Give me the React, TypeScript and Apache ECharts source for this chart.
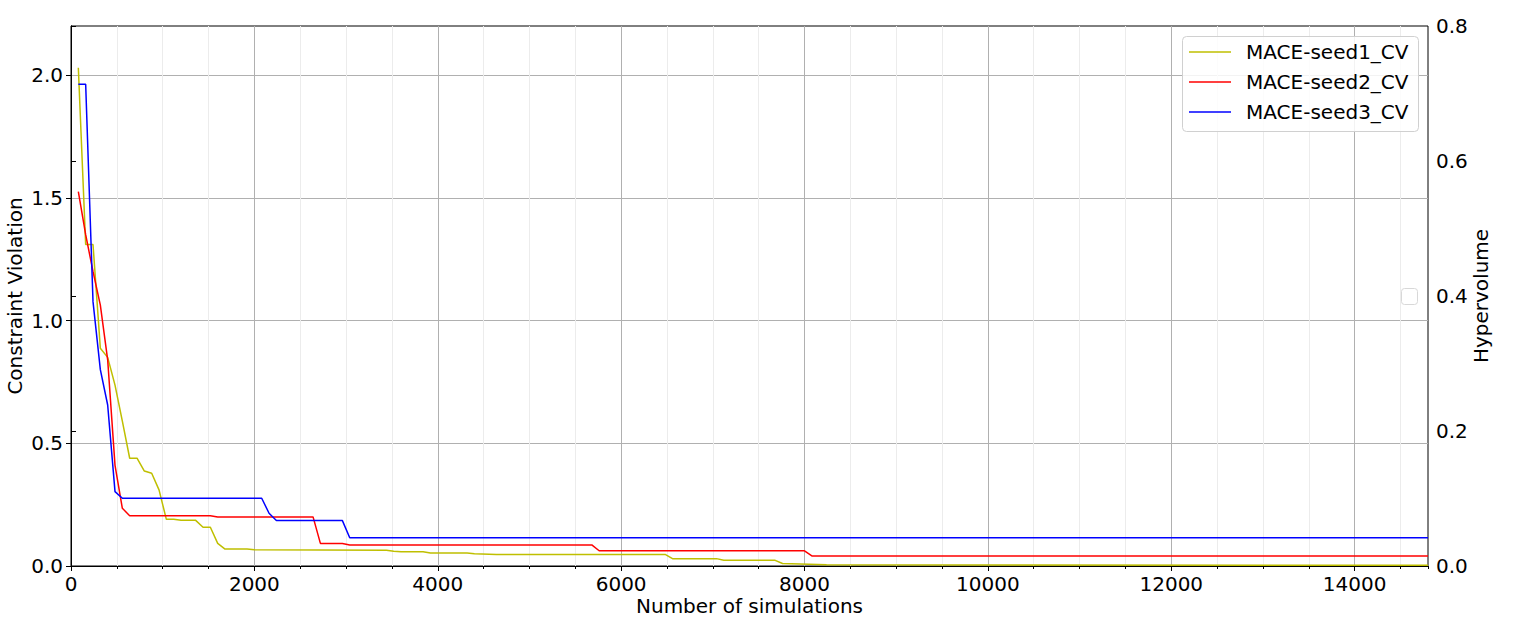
import React, { useEffect, useRef } from "react";
import * as echarts from "echarts";

const FONT = "DejaVu Sans";
const FS = 20;

// [number of simulations, constraint violation]
const seed1CV: [number, number][] = [
  [80, 2.03], [160, 1.31], [240, 1.31], [320, 0.887], [400, 0.85], [480, 0.737],
  [560, 0.59], [640, 0.439], [720, 0.439], [800, 0.387], [880, 0.378], [960, 0.31],
  [1040, 0.19], [1120, 0.19], [1200, 0.186], [1360, 0.186], [1440, 0.158], [1520, 0.158],
  [1600, 0.092], [1680, 0.069], [1920, 0.069], [2000, 0.066], [3440, 0.064], [3520, 0.06],
  [3600, 0.058], [3840, 0.058], [3920, 0.053], [4320, 0.053], [4400, 0.05], [4640, 0.047],
  [6480, 0.047], [6560, 0.03], [7040, 0.03], [7120, 0.023], [7680, 0.023], [7760, 0.01],
  [8240, 0.005], [14800, 0.003],
];

const seed2CV: [number, number][] = [
  [80, 1.525], [160, 1.35], [240, 1.2], [320, 1.063], [400, 0.84], [480, 0.41],
  [560, 0.235], [640, 0.205], [1520, 0.205], [1600, 0.2], [2640, 0.2], [2720, 0.092],
  [2960, 0.092], [3040, 0.086], [5680, 0.086], [5760, 0.062], [8000, 0.062], [8080, 0.041],
  [14800, 0.041],
];

const seed3CV: [number, number][] = [
  [80, 1.963], [160, 1.963], [240, 1.077], [320, 0.8], [400, 0.656], [480, 0.303],
  [560, 0.276], [2080, 0.276], [2160, 0.215], [2240, 0.185], [2960, 0.185], [3040, 0.115],
  [14800, 0.115],
];

const seriesNames = ["MACE-seed1_CV", "MACE-seed2_CV", "MACE-seed3_CV"];
const seriesColors = ["#bfbf00", "#ff0000", "#0000ff"];
const seriesData = [seed1CV, seed2CV, seed3CV];

const X_MAX = 14800;
const CV_MAX = 2.2;
const HV_MAX = 0.8;

export default function App() {
  const ref = useRef<HTMLDivElement>(null);

  useEffect(() => {
    if (!ref.current) return;
    const chart = echarts.init(ref.current, undefined, { renderer: "svg" });

    const legendGraphics: any[] = [
      {
        type: "rect",
        z: 100,
        shape: { x: 1182.5, y: 36.5, width: 236, height: 95, r: 4 },
        style: { fill: "rgba(255,255,255,0.85)", stroke: "#d0d0d0", lineWidth: 1 },
      },
    ];
    seriesNames.forEach((name, i) => {
      const y = 52 + i * 30;
      legendGraphics.push({
        type: "line",
        z: 101,
        shape: { x1: 1189, y1: y, x2: 1231, y2: y },
        style: { stroke: seriesColors[i], lineWidth: 1.5 },
      });
      legendGraphics.push({
        type: "text",
        z: 101,
        x: 1246,
        y: y,
        style: {
          text: name,
          fill: "#000",
          fontSize: FS,
          fontFamily: FONT,
          align: "left",
          verticalAlign: "middle",
        },
      });
    });
    legendGraphics.push({
      type: "rect",
      z: 100,
      shape: { x: 1401.5, y: 288.5, width: 16, height: 16, r: 3 },
      style: { fill: "rgba(255,255,255,0.85)", stroke: "#d8d8d8", lineWidth: 1 },
    });

    const option: any = {
      animation: false,
      backgroundColor: "#ffffff",
      textStyle: { fontFamily: FONT },
      grid: {
        left: 71,
        right: 85,
        top: 26,
        bottom: 65,
        containLabel: false,
        outerBoundsMode: "none",
        show: true,
        borderColor: "#000",
        borderWidth: 1,
        backgroundColor: "transparent",
      },
      xAxis: [
        {
          type: "value",
          min: 0,
          max: X_MAX,
          interval: 500,
          position: "bottom",
          axisLine: { show: false },
          axisTick: { show: true, length: 3, lineStyle: { color: "#000", width: 1 } },
          axisLabel: { show: false },
          splitLine: {
            show: true,
            showMinLine: false,
            showMaxLine: false,
            lineStyle: { color: "#ececec", width: 1 },
          },
        },
        {
          type: "value",
          min: 0,
          max: X_MAX,
          interval: 2000,
          position: "bottom",
          name: "Number of simulations",
          nameLocation: "middle",
          nameMoveOverlap: false,
          nameGap: 30,
          nameTextStyle: { fontSize: FS, color: "#000", fontFamily: FONT },
          axisLine: { show: true, lineStyle: { color: "#000", width: 1 } },
          axisTick: { show: true, length: 5, lineStyle: { color: "#000", width: 1 } },
          axisLabel: {
            fontSize: FS,
            color: "#000",
            fontFamily: FONT,
            margin: 8,
            showMaxLabel: false,
            formatter: (v: number) => (v % 2000 === 0 ? String(v) : ""),
          },
          splitLine: {
            show: true,
            showMinLine: false,
            showMaxLine: false,
            lineStyle: { color: "#b0b0b0", width: 1 },
          },
        },
      ],
      yAxis: [
        {
          type: "value",
          min: 0,
          max: CV_MAX,
          interval: 0.5,
          position: "left",
          name: "Constraint Violation",
          nameLocation: "middle",
          nameMoveOverlap: false,
          nameRotate: 90,
          nameGap: 46.5,
          nameTextStyle: { fontSize: FS, color: "#000", fontFamily: FONT },
          axisLine: { show: true, lineStyle: { color: "#000", width: 1 } },
          axisTick: { show: true, length: 5, lineStyle: { color: "#000", width: 1 } },
          axisLabel: {
            fontSize: FS,
            color: "#000",
            fontFamily: FONT,
            margin: 8,
            showMaxLabel: false,
            formatter: (v: number) => (Math.abs(v - CV_MAX) < 1e-9 ? "" : v.toFixed(1)),
          },
          splitLine: {
            show: true,
            showMinLine: false,
            showMaxLine: false,
            lineStyle: { color: "#b0b0b0", width: 1 },
          },
        },
        {
          type: "value",
          min: 0,
          max: HV_MAX,
          interval: 0.2,
          position: "right",
          name: "Hypervolume",
          nameLocation: "middle",
          nameMoveOverlap: false,
          nameRotate: 90,
          nameGap: 42.5,
          nameTextStyle: { fontSize: FS, color: "#000", fontFamily: FONT },
          axisLine: { show: true, lineStyle: { color: "#000", width: 1 } },
          axisTick: { show: true, length: 5, lineStyle: { color: "#000", width: 1 } },
          axisLabel: {
            fontSize: FS,
            color: "#000",
            fontFamily: FONT,
            margin: 8,
            formatter: (v: number) => v.toFixed(1),
          },
          splitLine: { show: false },
        },
      ],
      series: seriesNames.map((name, i) => ({
        name,
        type: "line",
        xAxisIndex: 1,
        yAxisIndex: 0,
        data: seriesData[i],
        symbol: "none",
        showSymbol: false,
        lineStyle: { color: seriesColors[i], width: 1.5 },
        itemStyle: { color: seriesColors[i] },
        z: 5,
      })),
      graphic: legendGraphics,
    };

    chart.setOption(option);
    return () => {
      chart.dispose();
    };
  }, []);

  return (
    <div
      ref={ref}
      style={{ position: "absolute", left: 0, top: 0, width: 1513, height: 631 }}
    />
  );
}
